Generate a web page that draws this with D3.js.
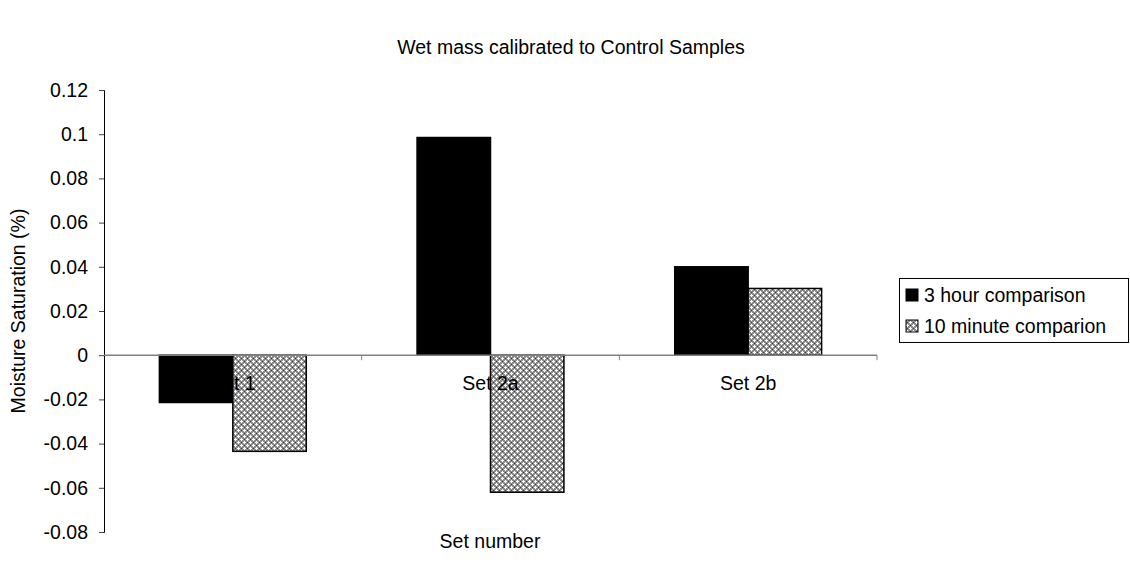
<!DOCTYPE html>
<html>
<head>
<meta charset="utf-8">
<script src="https://cdn.jsdelivr.net/npm/d3@7"></script>
<style>
  html, body { margin: 0; padding: 0; background: #fff; }
  svg { display: block; font-family: "Liberation Sans", Arial, sans-serif; }
</style>
</head>
<body>
<svg id="chart" width="1130" height="578"></svg>
<script>
// Chart data
const categories = ["Set 1", "Set 2a", "Set 2b"];
const seriesNames = ["3 hour comparison", "10 minute comparion"];
const threeHour = [-0.0214, 0.0985, 0.0400];
const tenMinute = [-0.0435, -0.0620, 0.0302];
const yTicks = [-0.08, -0.06, -0.04, -0.02, 0, 0.02, 0.04, 0.06, 0.08, 0.1, 0.12];

const svg = d3.select("#chart");
const margin = { left: 104, right: 253, top: 90, bottom: 46 };
const W = 1130, H = 578;
const FS = 19.5;

const x = d3.scaleBand().domain(categories).range([margin.left, W - margin.right]).paddingInner(0.43).paddingOuter(0.215);
const xs = d3.scaleBand().domain(seriesNames).range([0, x.bandwidth()]);
const y = d3.scaleLinear().domain([-0.08, 0.12]).range([H - margin.bottom, margin.top]);

// checkered fill for the second series
const defs = svg.append("defs");
const pat = defs.append("pattern").attr("id", "check").attr("patternUnits", "userSpaceOnUse")
  .attr("width", 6).attr("height", 6);
pat.append("rect").attr("width", 6).attr("height", 6).attr("fill", "#8c8c8c");
[[0,0],[3,3]].forEach(([a,b]) => {
  pat.append("rect").attr("x", a + 1).attr("y", b).attr("width", 1).attr("height", 3).attr("fill", "#ffffff");
  pat.append("rect").attr("x", a).attr("y", b + 1).attr("width", 3).attr("height", 1).attr("fill", "#ffffff");
});
[[3,0],[0,3]].forEach(([a,b]) => {
  pat.append("rect").attr("x", a + 1).attr("y", b + 1).attr("width", 1).attr("height", 1).attr("fill", "#3a3a3a");
});

// title
svg.append("text").attr("x", 571).attr("y", 54).attr("text-anchor", "middle")
  .attr("font-size", FS).attr("fill", "#000").text("Wet mass calibrated to Control Samples");

// y axis
const yAxis = d3.axisLeft(y).tickValues(yTicks).tickSize(5).tickPadding(11)
  .tickFormat(d => d === 0 ? "0" : String(+d.toFixed(2)));
const ga = svg.append("g").attr("transform", `translate(${margin.left},0)`).call(yAxis);
ga.select(".domain").attr("stroke", "#000").attr("stroke-width", 1);
ga.selectAll(".tick line").attr("stroke", "#444");
ga.selectAll(".tick text").attr("font-size", FS).attr("font-family", "Liberation Sans, Arial, sans-serif").attr("fill", "#000");

// y axis title
svg.append("text").attr("transform", `translate(25,${(y(0.12) + y(-0.08)) / 2}) rotate(-90)`)
  .attr("text-anchor", "middle").attr("font-size", FS).attr("fill", "#000").text("Moisture Saturation (%)");

// bars
const rows = categories.map((c, i) => ({ cat: c, vals: [threeHour[i], tenMinute[i]] }));
const g = svg.append("g");
rows.forEach(r => {
  r.vals.forEach((v, j) => {
    const x0 = x(r.cat) + xs(seriesNames[j]);
    g.append("rect")
      .attr("x", x0).attr("width", xs.bandwidth())
      .attr("y", y(Math.max(0, v))).attr("height", Math.abs(y(v) - y(0)))
      .attr("fill", j === 0 ? "#000" : "url(#check)")
      .attr("stroke", "#000").attr("stroke-width", 1.5);
  });
});

// zero line with category ticks
svg.append("line").attr("x1", margin.left).attr("x2", W - margin.right)
  .attr("y1", y(0)).attr("y2", y(0)).attr("stroke", "#808080").attr("stroke-width", 1.5);
const bounds = [];
categories.forEach((c, i) => bounds.push(x(c) - x.step() * x.paddingInner() / 2));
bounds.push(W - margin.right);
bounds.slice(1).forEach(bx => {
  svg.append("line").attr("x1", bx).attr("x2", bx).attr("y1", y(0)).attr("y2", y(0) + 5)
    .attr("stroke", "#808080");
});

// category labels
categories.forEach(c => {
  svg.append("text").attr("x", x(c) + x.bandwidth() / 2).attr("y", y(0) + 35)
    .attr("text-anchor", "middle").attr("font-size", FS).attr("fill", "#000").text(c);
});

// x axis title
svg.append("text").attr("x", 490).attr("y", 548).attr("text-anchor", "middle")
  .attr("font-size", FS).attr("fill", "#000").text("Set number");

// legend
const lg = svg.append("g");
lg.append("rect").attr("x", 899.5).attr("y", 278.5).attr("width", 229).attr("height", 64)
  .attr("fill", "#fff").attr("stroke", "#000");
seriesNames.forEach((s, i) => {
  const ly = 295 + i * 31;
  lg.append("rect").attr("x", 906).attr("y", ly - 6).attr("width", 12).attr("height", 12)
    .attr("fill", i === 0 ? "#000" : "url(#check)").attr("stroke", "#000");
  lg.append("text").attr("x", 924).attr("y", ly + 7).attr("font-size", FS).attr("fill", "#000").text(s);
});
</script>
</body>
</html>
